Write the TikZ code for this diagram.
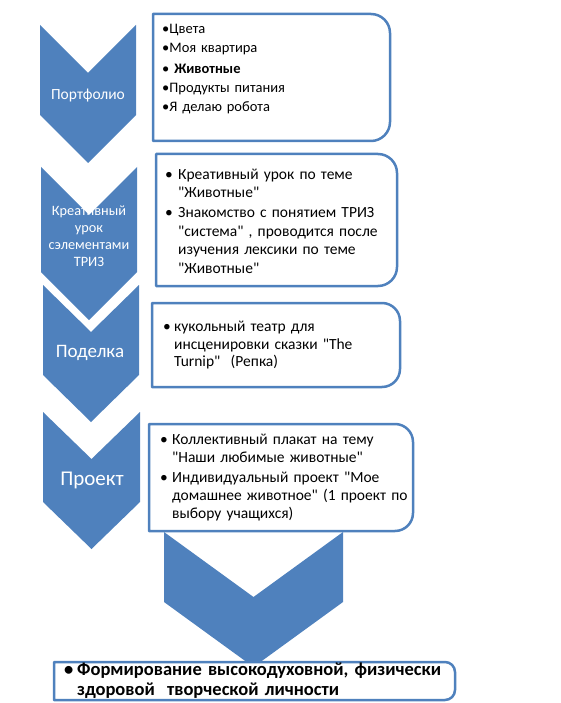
\documentclass[tikz,border=0pt]{standalone}
\usepackage{fontspec}
\setmainfont{Carlito}[Ligatures=TeXOff]
\definecolor{chevblue}{HTML}{4F81BD}
\newcommand{\chevronshape}[5]{%
  % left, right, top, bottom of the sides, depth of the notch
  \fill[chevron] (#1,#3) -- ({(#1+#2)/2},{#3+#5}) -- (#2,#3) -- (#2,#4)
    -- ({(#1+#2)/2},{#4+#5}) -- (#1,#4) -- cycle;
}
\newcommand{\itembox}[5]{%
  % left, top, right, bottom, corner radius
  \draw[itemframe] (#1,#2) -- ({#3-#5},#2) arc[start angle=-90,end angle=0,radius=#5]
    -- (#3,{#4-#5}) arc[start angle=0,end angle=90,radius=#5] -- (#1,#4) -- cycle;
}
\newcommand{\pitem}[2]{%
  % hanging indent, text (lines broken with \newline)
  \hangindent=#1\hangafter=1\makebox[#1][l]{•}#2\par
}
\tikzset{
  chevron/.style={fill=chevblue},
  itemframe/.style={draw=chevblue, line width=2.5pt, fill=white, line join=round},
  steplabel/.style={text=white, align=center, inner sep=0pt},
  itemtext/.style={anchor=base west, align=left, inner sep=0pt},
}
\begin{document}
\begin{tikzpicture}[x=1pt,y=-1pt]
  \useasboundingbox (0,0) rectangle (561,703);
  \foreach \xl/\xr/\yt/\yb/\dep in {40/136/25/115/48, 41/137/167/272/48,
      43/139/285/375/47, 43/140/412/502/47, 164/343/532/602/65}{%
    \chevronshape{\xl}{\xr}{\yt}{\yb}{\dep}
  }
  \foreach \xl/\yt/\xr/\yb/\rad in {153/14/390/141/19, 156/154/397/286/19,
      152/303/400/387/18, 149/424/413/531/18, 54/662/455/700/10}{%
    \itembox{\xl}{\yt}{\xr}{\yb}{\rad}
  }
  % steps
  \node[steplabel, font=\fontsize{15.5}{17.5}\selectfont] (portfolio) at (88,96) {Портфолио};
  \node[steplabel, font=\fontsize{14.3}{17}\selectfont] (lesson) at (89,236)
    {Креативный\\урок\\сэлементами\\ТРИЗ};
  \node[steplabel, font=\fontsize{19}{21}\selectfont] (craft) at (90,353) {Поделка};
  \node[steplabel, font=\fontsize{21}{23}\selectfont] (project) at (92,480) {Проект};
  % lists
  \node[itemtext, text width=225pt, font=\fontsize{14.5}{18.8}\selectfont] (topics) at (162,34)
    {•Цвета\\•Моя квартира\\[2pt]•\ \textbf{Животные}\\•Продукты питания\\•Я делаю робота};
  \node[itemtext, text width=234pt, font=\fontsize{15.5}{18.5}\selectfont] (lessontext) at (165,179.5)
    {\setlength{\parskip}{1.5pt}%
     \pitem{13pt}{Креативный урок по теме\newline"Животные"}%
     \pitem{13pt}{Знакомство с понятием ТРИЗ\newline"система" , проводится после\newline
       изучения лексики по теме\newline"Животные"}};
  \node[itemtext, text width=238pt, font=\fontsize{15.5}{17.5}\selectfont] (crafttext) at (163,331.5)
    {\pitem{11pt}{кукольный театр для\newline инсценировки сказки "The\newline Turnip"\ \ (Репка)}};
  \node[itemtext, text width=255pt, font=\fontsize{15.5}{18}\selectfont] (projecttext) at (160,444.5)
    {\setlength{\parskip}{2pt}%
     \pitem{12pt}{Коллективный плакат на тему\newline"Наши любимые животные"}%
     \pitem{12pt}{Индивидуальный проект "Мое\newline домашнее животное" (1 проект по\newline
       выбору учащихся)}};
  \node[itemtext, text width=397pt, font=\bfseries\fontsize{18.5}{20}\selectfont] (goal) at (64,675)
    {\pitem{13pt}{Формирование высокодуховной, физически\newline здоровой\ \ творческой личности}};
\end{tikzpicture}
\end{document}
